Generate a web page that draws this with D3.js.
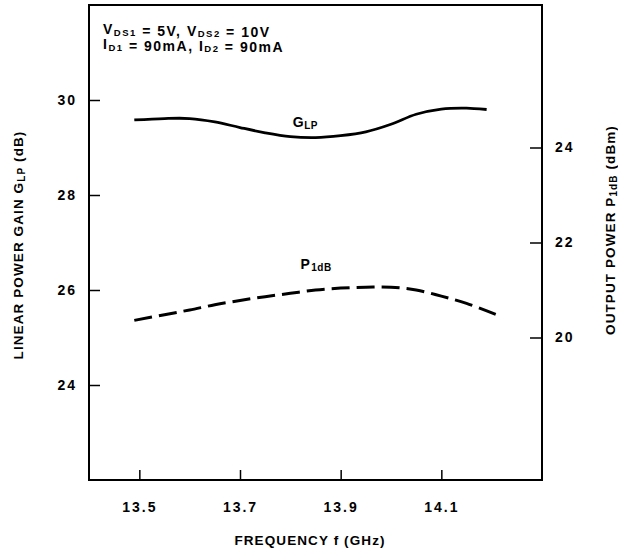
<!DOCTYPE html>
<html>
<head>
<meta charset="utf-8">
<script src="https://cdn.jsdelivr.net/npm/d3@7"></script>
<style>
  body { margin: 0; background: #fff; }
  text { font-family: "Liberation Sans", Arial, sans-serif; font-weight: bold; fill: #000; }
  .tick text { font-size: 14px; letter-spacing: 2px; }
  .tick line { stroke: #000; stroke-width: 1.5px; }
  .axistext { font-size: 13.5px; letter-spacing: 1.1px; }
  .note { font-size: 14px; letter-spacing: 1.5px; }
  .lbl { font-size: 14px; letter-spacing: 0.5px; }
</style>
</head>
<body>
<div id="chart"></div>
<script>
// data
var freq = [13.49, 13.55, 13.60, 13.65, 13.70, 13.75, 13.80, 13.85, 13.90, 13.95, 14.00, 14.05, 14.10, 14.15, 14.19];
var gainLP = [29.58, 29.61, 29.61, 29.54, 29.42, 29.31, 29.23, 29.21, 29.25, 29.33, 29.49, 29.70, 29.81, 29.83, 29.80];
var freqP = [13.49, 13.55, 13.60, 13.65, 13.70, 13.75, 13.80, 13.85, 13.90, 13.95, 14.00, 14.05, 14.10, 14.15, 14.21];
var p1dB = [20.36, 20.48, 20.58, 20.69, 20.78, 20.86, 20.93, 21.00, 21.04, 21.06, 21.06, 21.00, 20.87, 20.72, 20.48];
var xTicks = [13.5, 13.7, 13.9, 14.1];
var leftTicks = [24, 26, 28, 30];
var rightTicks = [20, 22, 24];

// svg parameters
var svgWidth = 618;
var svgHeight = 548;
var margin = { top: 5, right: 76, bottom: 68, left: 89 };
var width = svgWidth - margin.left - margin.right;
var height = svgHeight - margin.top - margin.bottom;

var svg = d3.select("#chart").append("svg")
  .attr("width", svgWidth)
  .attr("height", svgHeight);
var chart = svg.append("g")
  .attr("transform", `translate(${margin.left}, ${margin.top})`);

// scales
var xScale = d3.scaleLinear().domain([13.4, 14.3]).range([0, width]);
var yLeft = d3.scaleLinear().domain([22, 32]).range([height, 0]);
var yRight = d3.scaleLinear().domain([17, 27]).range([height, 0]);

// axes, ticks point inward
chart.append("g")
  .attr("transform", `translate(0,${height})`)
  .call(d3.axisBottom(xScale).tickValues(xTicks).tickSize(-10).tickPadding(22).tickFormat(d3.format(".1f")))
  .call(g => g.select(".domain").remove());
chart.append("g")
  .call(d3.axisLeft(yLeft).tickValues(leftTicks).tickSize(-11).tickPadding(12))
  .call(g => g.select(".domain").remove());
chart.append("g")
  .attr("transform", `translate(${width},0)`)
  .call(d3.axisRight(yRight).tickValues(rightTicks).tickSize(-12).tickPadding(13))
  .call(g => g.select(".domain").remove());
chart.selectAll(".tick text").attr("fill", "#000");

// frame
chart.append("rect")
  .attr("width", width)
  .attr("height", height)
  .attr("fill", "none")
  .attr("stroke", "#000")
  .attr("stroke-width", 2);

// curves
var gainLine = d3.line()
  .x((d, i) => xScale(freq[i]))
  .y(d => yLeft(d))
  .curve(d3.curveCatmullRom);
chart.append("path")
  .datum(gainLP)
  .attr("d", gainLine)
  .attr("fill", "none")
  .attr("stroke", "#000")
  .attr("stroke-width", 2.8);

var powerLine = d3.line()
  .x((d, i) => xScale(freqP[i]))
  .y(d => yRight(d))
  .curve(d3.curveCatmullRom);
chart.append("path")
  .datum(p1dB)
  .attr("d", powerLine)
  .attr("fill", "none")
  .attr("stroke", "#000")
  .attr("stroke-width", 3)
  .attr("stroke-dasharray", "18,7");

// curve labels
var gLabel = chart.append("text").attr("class", "lbl")
  .attr("x", xScale(13.805)).attr("y", yLeft(29.43));
gLabel.append("tspan").text("G");
gLabel.append("tspan").attr("font-size", "10px").attr("dy", 2).text("LP");

var pLabel = chart.append("text").attr("class", "lbl")
  .attr("x", xScale(13.82)).attr("y", yRight(21.44));
pLabel.append("tspan").text("P");
pLabel.append("tspan").attr("font-size", "10px").attr("dy", 2).attr("dx", 1).text("1dB");

// bias conditions
function sub(t, main, s) {
  t.append("tspan").text(main);
  t.append("tspan").attr("font-size", "9.5px").attr("dy", 1.5).text(s);
  t.append("tspan").attr("dy", -1.5).text("");
}
var l1 = svg.append("text").attr("class", "note").attr("x", 103).attr("y", 34);
sub(l1, "V", "DS1");
l1.append("tspan").text(" = 5V, ");
sub(l1, "V", "DS2");
l1.append("tspan").text(" = 10V");
var l2 = svg.append("text").attr("class", "note").attr("x", 103).attr("y", 49);
sub(l2, "I", "D1");
l2.append("tspan").text(" = 90mA, ");
sub(l2, "I", "D2");
l2.append("tspan").text(" = 90mA");

// axis titles
svg.append("text")
  .attr("class", "axistext")
  .attr("text-anchor", "middle")
  .attr("x", 310).attr("y", 545)
  .text("FREQUENCY f (GHz)");

var lt = svg.append("text")
  .attr("class", "axistext")
  .attr("text-anchor", "middle")
  .attr("transform", "translate(23,245) rotate(-90)");
lt.append("tspan").text("LINEAR POWER GAIN G");
lt.append("tspan").attr("font-size", "10px").attr("dy", 2).text("LP");
lt.append("tspan").attr("dy", -2).text(" (dB)");

var rt = svg.append("text")
  .attr("class", "axistext")
  .attr("text-anchor", "middle")
  .attr("letter-spacing", "0.7px")
  .attr("transform", "translate(615,230) rotate(-90)");
rt.append("tspan").text("OUTPUT POWER P");
rt.append("tspan").attr("font-size", "10px").attr("dy", 2).text("1dB");
rt.append("tspan").attr("dy", -2).text(" (dBm)");
</script>
</body>
</html>
